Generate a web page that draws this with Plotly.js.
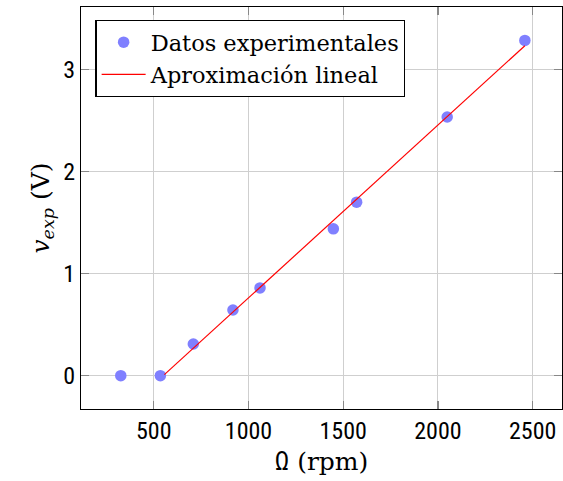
<!DOCTYPE html>
<html>
<head>
<meta charset="utf-8">
<script src="https://cdn.plot.ly/plotly-3.0.1.min.js"></script>
<style>
  html, body { margin: 0; padding: 0; background: #fff; }
  #chart { width: 563px; height: 481px; }
</style>
</head>
<body>
<div id="chart"></div>
<script>
// Measured speed (rpm) and voltage (V)
const omegaRpm = [326, 535, 709, 918, 1061, 1448, 1571, 2049, 2459];
const voltageV = [0.0, 0.0, 0.31, 0.643, 0.859, 1.437, 1.698, 2.531, 3.281];

// Endpoints of the fitted straight line
const fitRpm = [556, 2459];
const fitV = [0.01, 3.229];

const xTicks = [500, 1000, 1500, 2000, 2500];
const yTicks = [0, 1, 2, 3];

const serif = '"DejaVu Serif", "Liberation Serif", serif';
const narrow = '"Liberation Sans Narrow", "Roboto Condensed", "Arial Narrow", sans-serif';

const traces = [
  {
    x: omegaRpm, y: voltageV,
    mode: 'markers', type: 'scatter',
    name: 'Datos experimentales',
    marker: { color: 'rgb(128,128,255)', size: 11.5, line: { width: 0 } }
  },
  {
    x: fitRpm, y: fitV,
    mode: 'lines', type: 'scatter',
    name: 'Aproximación lineal',
    line: { color: '#ff0000', width: 1.2 }
  }
];

const axisCommon = {
  showgrid: true, gridcolor: '#cfcfcf', gridwidth: 1,
  zeroline: false,
  showline: true, linecolor: '#000', linewidth: 1.2, mirror: 'ticks',
  ticks: 'inside', ticklen: 8, tickcolor: '#888', tickwidth: 1.2,
  tickfont: { family: narrow, size: 24, color: '#000' }
};

const layout = {
  width: 563, height: 481,
  margin: { l: 81, r: 1, t: 7, b: 72 },
  paper_bgcolor: '#fff', plot_bgcolor: '#fff',
  showlegend: true,
  legend: {
    x: 0.03, y: 0.968, xanchor: 'left', yanchor: 'top',
    bgcolor: '#fff', bordercolor: '#000', borderwidth: 1.2,
    font: { family: serif, size: 22.5, color: '#000' },
    itemwidth: 44, tracegroupgap: 0
  },
  xaxis: Object.assign({}, axisCommon, {
    range: [116, 2655],
    tickvals: xTicks, ticktext: xTicks.map(String),
    title: {
      text: '<span style="font-family:' + narrow.replace(/"/g, "'") + '">Ω</span> (rpm)',
      font: { family: serif, size: 25, color: '#000' },
      standoff: 8
    }
  }),
  yaxis: Object.assign({}, axisCommon, {
    range: [-0.326, 3.608],
    tickvals: yTicks, ticktext: yTicks.map(String),
    title: {
      text: '<i>v</i><sub><i>exp</i></sub> (V)',
      font: { family: serif, size: 25, color: '#000' },
      standoff: 6
    }
  })
};

Plotly.newPlot('chart', traces, layout, { displayModeBar: false, staticPlot: true });
</script>
</body>
</html>
